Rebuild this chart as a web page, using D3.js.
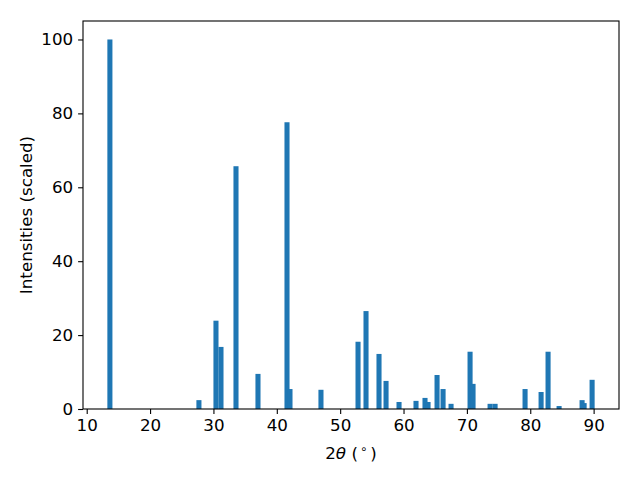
<!DOCTYPE html>
<html>
<head>
<meta charset="utf-8">
<script src="https://cdn.jsdelivr.net/npm/d3@7"></script>
<style>
  body { margin: 0; background: #fff; }
</style>
</head>
<body>
<svg width="640" height="480"></svg>
<script>
// peak positions (2theta, degrees) and scaled intensities
const positions = [13.66, 27.71, 30.40, 31.19, 33.56, 37.03, 41.61, 42.08, 46.97, 52.82,
  54.08, 56.13, 57.24, 59.29, 61.97, 63.39, 63.87, 65.29, 66.24, 67.50,
  70.50, 70.97, 73.66, 74.45, 79.18, 81.71, 82.81, 84.55, 88.18, 88.50, 89.76];
const intensities = [100, 2.4, 23.9, 16.8, 65.7, 9.5, 77.6, 5.4, 5.2, 18.2,
  26.5, 14.9, 7.6, 1.9, 2.2, 3.0, 1.9, 9.2, 5.4, 1.4,
  15.5, 6.8, 1.4, 1.4, 5.4, 4.6, 15.5, 0.8, 2.4, 1.6, 7.9];
const xTicks = [10, 20, 30, 40, 50, 60, 70, 80, 90];
const yTicks = [0, 20, 40, 60, 80, 100];
const barWidth = 0.8;

const svg = d3.select("svg");
const margin = {left: 83, right: 21, top: 21, bottom: 71};
const width = 640, height = 480;
const font = "DejaVu Sans, sans-serif";
const fontSize = "16.7px";

const peaks = positions.map((p, i) => ({x: p, y: intensities[i]}));

// matplotlib style 5% padding around the bar extents
const lo = d3.min(positions) - barWidth / 2;
const hi = d3.max(positions) + barWidth / 2;
const pad = (hi - lo) * 0.05;

const x = d3.scaleLinear()
  .domain([lo - pad, hi + pad])
  .range([margin.left, width - margin.right]);

const y = d3.scaleLinear()
  .domain([0, 105])
  .range([height - margin.bottom, margin.top]);

// bars
svg.append("g")
  .selectAll("rect")
  .data(peaks)
  .enter()
  .append("rect")
  .attr("x", d => x(d.x - barWidth / 2))
  .attr("width", d => x(d.x + barWidth / 2) - x(d.x - barWidth / 2))
  .attr("y", d => y(d.y))
  .attr("height", d => y(0) - y(d.y))
  .attr("fill", "#1f77b4");

// axes
const xAxis = svg.append("g")
  .attr("transform", `translate(0,${height - margin.bottom})`)
  .call(d3.axisBottom(x).tickValues(xTicks).tickSize(4.9).tickPadding(4.9));

const yAxis = svg.append("g")
  .attr("transform", `translate(${margin.left},0)`)
  .call(d3.axisLeft(y).tickValues(yTicks).tickSize(4.9).tickPadding(4.9));

[xAxis, yAxis].forEach(a => {
  a.attr("font-family", font).attr("font-size", fontSize);
  a.select(".domain").remove();
  a.selectAll(".tick line").attr("stroke", "#000").attr("stroke-width", 1.1);
  a.selectAll(".tick text").attr("fill", "#000");
});

// frame
svg.append("rect")
  .attr("x", margin.left)
  .attr("y", margin.top)
  .attr("width", width - margin.left - margin.right)
  .attr("height", height - margin.top - margin.bottom)
  .attr("fill", "none")
  .attr("stroke", "#000")
  .attr("stroke-width", 1.1);

// axis labels
const xl = svg.append("text")
  .attr("x", (margin.left + width - margin.right) / 2)
  .attr("y", 459)
  .attr("text-anchor", "middle")
  .attr("font-family", font)
  .attr("font-size", fontSize);
xl.append("tspan").text("2");
xl.append("tspan").style("font-style", "italic").text("θ");
xl.append("tspan").text(" (");
xl.append("tspan").attr("dx", 2).attr("dy", -6).attr("font-size", "11.7px").text("∘");
xl.append("tspan").attr("dx", 3).attr("dy", 6).text(")");

svg.append("text")
  .attr("transform", `translate(32,${(margin.top + height - margin.bottom) / 2}) rotate(-90)`)
  .attr("text-anchor", "middle")
  .attr("font-family", font)
  .attr("font-size", fontSize)
  .text("Intensities (scaled)");
</script>
</body>
</html>
